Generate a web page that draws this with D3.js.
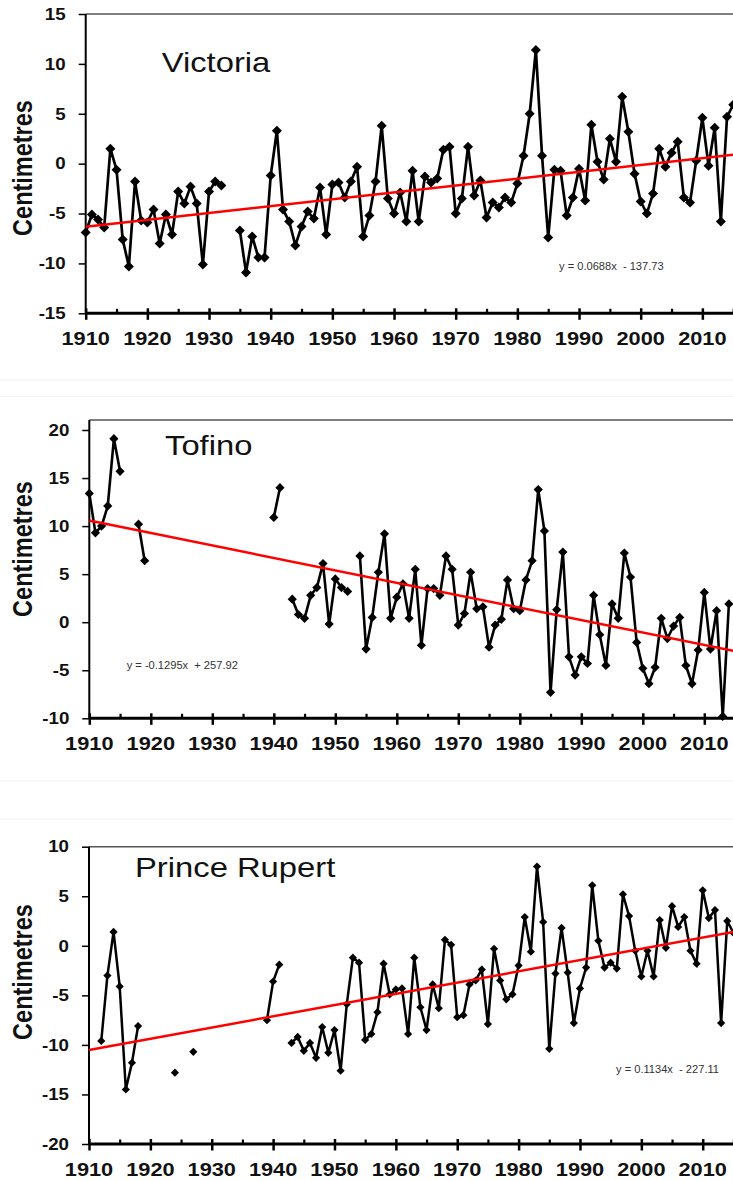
<!DOCTYPE html>
<html>
<head>
<meta charset="utf-8">
<script src="https://cdn.jsdelivr.net/npm/d3@7"></script>
<style>
  html, body { margin: 0; padding: 0; background: #fff; }
  svg { display: block; font-family: "Liberation Sans", Arial, sans-serif; }
</style>
</head>
<body>
<svg id="chart" width="733" height="1181"></svg>
<script>
// Annual mean sea level anomalies (cm), one value per year starting at firstYear; null = no record
const firstYear = 1910;
const lastYear = 2015;

const victoriaValues = [
  -6.9, -5.1, -5.6, -6.4, 1.5, -0.6, -7.6, -10.3, -1.8, -5.7,
  -5.9, -4.6, -8.0, -5.1, -7.1, -2.8, -4.0, -2.3, -4.0, -10.1,
  -2.8, -1.8, -2.2, null, null, -6.7, -10.9, -7.3, -9.4, -9.4,
  -1.2, 3.3, -4.6, -5.8, -8.2, -6.3, -4.8, -5.5, -2.4, -7.1,
  -2.1, -1.9, -3.4, -1.8, -0.3, -7.3, -5.2, -1.8, 3.8, -3.5,
  -5.0, -2.9, -5.8, -0.7, -5.8, -1.3, -1.9, -1.5, 1.4, 1.7,
  -5.0, -3.5, 1.7, -3.2, -1.7, -5.4, -3.9, -4.4, -3.4, -3.9,
  -2.0, 0.8, 5.0, 11.4, 0.8, -7.4, -0.6, -0.7, -5.2, -3.4,
  -0.5, -3.7, 3.9, 0.2, -1.6, 2.5, 0.2, 6.7, 3.2, -1.0,
  -3.8, -5.0, -3.0, 1.5, -0.3, 1.1, 2.2, -3.4, -3.9, 0.3,
  4.6, -0.2, 3.6, -5.8, 4.7, 5.9
];

const tofinoValues = [
  13.4, 9.3, 10.0, 12.1, 19.1, 15.7, null, null, 10.2, 6.4,
  null, null, null, null, null, null, null, null, null, null,
  null, null, null, null, null, null, null, null, null, null,
  10.9, 14.0, null, 2.4, 0.8, 0.4, 2.8, 3.6, 6.1, -0.2,
  4.5, 3.6, 3.2, null, 6.9, -2.8, 0.5, 5.2, 9.2, 0.4,
  2.6, 4.0, 0.4, 5.5, -2.4, 3.5, 3.5, 2.8, 6.9, 5.5,
  -0.3, 0.9, 5.2, 1.4, 1.6, -2.6, -0.3, 0.3, 4.4, 1.4,
  1.2, 4.4, 6.4, 13.8, 9.5, -7.3, 1.3, 7.3, -3.6, -5.5,
  -3.6, -4.3, 2.8, -1.3, -4.5, 1.9, 0.4, 7.2, 4.7, -2.1,
  -4.8, -6.4, -4.7, 0.4, -1.7, -0.4, 0.5, -4.5, -6.4, -2.9,
  3.1, -2.8, 1.2, -9.8, 1.9
];

const rupertValues = [
  null, null, -9.6, -3.0, 1.4, -4.1, -14.5, -11.8, -8.1, null,
  null, null, null, null, -12.8, null, null, -10.7, null, null,
  null, null, null, null, null, null, null, null, null, -7.5,
  -3.6, -1.9, null, -9.8, -9.2, -10.6, -9.8, -11.3, -8.2, -10.8,
  -8.5, -12.6, -5.9, -1.2, -1.7, -9.5, -8.9, -6.7, -1.8, -4.9,
  -4.4, -4.3, -8.9, -1.2, -6.2, -8.5, -3.9, -6.3, 0.6, 0.1,
  -7.2, -7.0, -3.9, -3.5, -2.4, -7.9, -0.3, -3.5, -5.4, -4.9,
  -2.0, 2.9, -0.6, 8.0, 2.4, -10.4, -2.8, 1.8, -2.7, -7.8,
  -4.3, -2.2, 6.1, 0.5, -2.2, -1.7, -2.3, 5.2, 3.0, -0.5,
  -3.1, -0.5, -3.1, 2.6, -0.2, 4.0, 1.9, 2.9, -0.5, -1.8,
  5.6, 2.8, 3.6, -7.8, 2.5, 1.3
];

// Linear trend coefficients [slope, intercept] as printed on each panel
const victoriaTrend = [0.0688, -137.73];
const tofinoTrend = [-0.1295, 257.92];
const rupertTrend = [0.1134, -227.11];

const victoriaEquation = "y = 0.0688x  - 137.73";
const tofinoEquation = "y = -0.1295x  + 257.92";
const rupertEquation = "y = 0.1134x  - 227.11";

const victoriaTicks = [-15, -10, -5, 0, 5, 10, 15];
const tofinoTicks = [-10, -5, 0, 5, 10, 15, 20];
const rupertTicks = [-20, -15, -10, -5, 0, 5, 10];

const yearLabels = [1910, 1920, 1930, 1940, 1950, 1960, 1970, 1980, 1990, 2000, 2010];
const minorYears = [1915, 1925, 1935, 1945, 1955, 1965, 1975, 1985, 1995, 2005, 2015];

const axisTitle = "Centimetres";

// Layout of the three stacked panels
const panels = [
  { title: "Victoria", values: victoriaValues, trend: victoriaTrend, equation: victoriaEquation,
    yTicks: victoriaTicks, yTop: 14, yBottom: 313.3, frameTop: 14, left: 85.7, right: 733.2,
    marker: 5, lineWidth: 2.7, titleX: 161.7, titleY: 71.7, eqX: 559, eqY: 270, axisTitleY: 168 },
  { title: "Tofino", values: tofinoValues, trend: tofinoTrend, equation: tofinoEquation,
    yTicks: tofinoTicks, yTop: 430, yBottom: 718.3, frameTop: 420, left: 89.3, right: 735.05,
    marker: 4.6, lineWidth: 2.6, titleX: 165, titleY: 455, eqX: 126.7, eqY: 669, axisTitleY: 549 },
  { title: "Prince Rupert", values: rupertValues, trend: rupertTrend, equation: rupertEquation,
    yTicks: rupertTicks, yTop: 846.7, yBottom: 1144, frameTop: 846.7, left: 89, right: 733.4,
    marker: 4.1, lineWidth: 2.5, titleX: 135, titleY: 876.7, eqX: 616, eqY: 1072.7, axisTitleY: 972 }
];

const svg = d3.select("#chart");
const W = 733;
const stretch = 1.17;

// faint separators between the stacked figures
[380, 396.7, 781, 819].forEach(y => {
  svg.append("line").attr("x1", 0).attr("x2", W).attr("y1", y).attr("y2", y)
    .attr("stroke", "#f1f1f1").attr("stroke-width", 1);
});

function diamond(r) {
  return `M0,${-r}L${r},0L0,${r}L${-r},0Z`;
}

panels.forEach(p => {
  const g = svg.append("g");
  const ticks = p.yTicks;
  const x = d3.scaleLinear().domain([firstYear, lastYear]).range([p.left, p.right]);
  const y = d3.scaleLinear().domain([d3.min(ticks), d3.max(ticks)]).range([p.yBottom, p.yTop]);

  const points = p.values.map((v, i) => ({ year: firstYear + i, value: v }));

  // top frame line
  g.append("line").attr("x1", p.left).attr("x2", W + 5)
    .attr("y1", p.frameTop).attr("y2", p.frameTop)
    .attr("stroke", "#555").attr("stroke-width", 1.5);

  // y axis
  const yAxis = d3.axisLeft(y).tickValues(ticks).tickSize(7).tickFormat("");
  const ya = g.append("g").attr("transform", `translate(${p.left},0)`).call(yAxis);
  ya.select(".domain").remove();
  ya.selectAll(".tick line").attr("stroke", "#000").attr("stroke-width", 1.5);
  g.append("line").attr("x1", p.left).attr("x2", p.left)
    .attr("y1", p.frameTop).attr("y2", p.yBottom)
    .attr("stroke", "#000").attr("stroke-width", 2);

  ticks.forEach(t => {
    g.append("text")
      .attr("transform", `translate(${p.left - 20},${y(t)}) scale(${stretch},1)`)
      .attr("text-anchor", "end").attr("dy", "0.36em")
      .attr("font-size", 16).attr("font-weight", "bold").attr("fill", "#111")
      .text(t);
  });

  // x axis: thick baseline, major ticks crossing it, minor ticks inside
  g.append("line").attr("x1", p.left).attr("x2", W + 5)
    .attr("y1", p.yBottom).attr("y2", p.yBottom)
    .attr("stroke", "#000").attr("stroke-width", 3);
  const xMajor = d3.axisBottom(x).tickValues(yearLabels).tickSize(0).tickFormat("");
  const xa = g.append("g").attr("transform", `translate(0,${p.yBottom})`).call(xMajor);
  xa.select(".domain").remove();
  xa.selectAll(".tick line").attr("y1", -5).attr("y2", 6.5)
    .attr("stroke", "#000").attr("stroke-width", 2.5);
  const xMinor = d3.axisBottom(x).tickValues(minorYears).tickSize(0).tickFormat("");
  const xm = g.append("g").attr("transform", `translate(0,${p.yBottom})`).call(xMinor);
  xm.select(".domain").remove();
  xm.selectAll(".tick line").attr("y1", -4.5).attr("y2", 0)
    .attr("stroke", "#000").attr("stroke-width", 2.2);

  yearLabels.forEach(yr => {
    g.append("text")
      .attr("transform", `translate(${x(yr)},${p.yBottom + 32}) scale(${stretch},1)`)
      .attr("text-anchor", "middle")
      .attr("font-size", 18.6).attr("font-weight", "bold").attr("fill", "#111")
      .text(yr);
  });

  // axis title
  g.append("text")
    .attr("transform", `translate(21.7,${p.axisTitleY}) scale(${stretch},1) rotate(-90)`)
    .attr("text-anchor", "middle").attr("dy", "0.36em")
    .attr("font-size", 23.5).attr("font-weight", "bold").attr("fill", "#111")
    .text(axisTitle);

  // station name
  g.append("text")
    .attr("transform", `translate(${p.titleX},${p.titleY}) scale(${stretch},1)`)
    .attr("font-size", 28).attr("fill", "#111")
    .text(p.title);

  // series line, broken where years are missing
  const line = d3.line()
    .defined(d => d.value !== null)
    .x(d => x(d.year)).y(d => y(d.value));
  g.append("path").datum(points)
    .attr("d", line).attr("fill", "none")
    .attr("stroke", "#000").attr("stroke-width", p.lineWidth)
    .attr("stroke-linejoin", "miter");

  g.selectAll("path.marker").data(points.filter(d => d.value !== null)).join("path")
    .attr("class", "marker")
    .attr("transform", d => `translate(${x(d.year)},${y(d.value)})`)
    .attr("d", diamond(p.marker)).attr("fill", "#000");

  // linear trend line
  const trendPts = [firstYear, lastYear].map(yr => ({ year: yr, value: p.trend[0] * yr + p.trend[1] }));
  g.append("path").datum(trendPts)
    .attr("d", d3.line().x(d => x(d.year)).y(d => y(d.value)))
    .attr("fill", "none").attr("stroke", "#ff0000").attr("stroke-width", 2.5);

  // trend equation
  g.append("text")
    .attr("transform", `translate(${p.eqX},${p.eqY}) scale(1.09,1)`)
    .attr("font-size", 10.2).attr("fill", "#333")
    .style("white-space", "pre")
    .text(p.equation);
});
</script>
</body>
</html>
